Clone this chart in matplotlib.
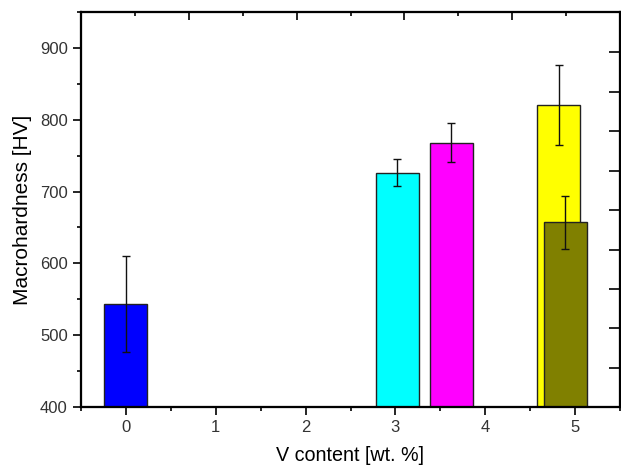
import matplotlib
matplotlib.use("Agg")
import matplotlib.pyplot as plt
from matplotlib.ticker import MultipleLocator

plt.rcParams["font.family"] = ["Liberation Sans", "DejaVu Sans"]

# --- data ---
positions = [0.0, 3.02, 3.62, 4.82, 4.89]
hardness = [544, 726, 768, 820, 657]
errors = [67, 19, 27, 56, 37]
colors = ["#0000ff", "#00ffff", "#ff00ff", "#ffff00", "#808000"]
xtick_labels = ["0", "1", "2", "3", "4", "5"]

fig = plt.figure(figsize=(6.21, 4.67), dpi=100)
ax = fig.add_axes([81 / 621, 1 - 407.3 / 467, 539 / 621, (407.3 - 11.7) / 467])

for x, h, e, c in zip(positions, hardness, errors, colors):
    ax.bar(x, h - 400, bottom=400, width=0.48, color=c, edgecolor="#222222",
           linewidth=1.0, zorder=2)
    ax.errorbar(x, h, yerr=e, fmt="none", ecolor="#111111", elinewidth=1.0,
                capsize=3, capthick=1.0, zorder=3)

ax.set_xlim(-0.5, 5.5)
ax.set_ylim(400, 950)
ax.set_xticks(range(len(xtick_labels)))
ax.set_xticklabels(xtick_labels)
ax.xaxis.set_minor_locator(MultipleLocator(0.5))
ax.set_yticks([400, 500, 600, 700, 800, 900])
ax.yaxis.set_minor_locator(MultipleLocator(50))

ax.tick_params(which="major", direction="out", length=6, width=1.2,
               labelsize=12, labelcolor="#333333", top=False, right=False)
ax.tick_params(which="minor", direction="out", length=3, width=1.2,
               top=False, right=False)
ax.tick_params(axis="x", pad=3)

for s in ax.spines.values():
    s.set_linewidth(1.5)

ax.set_xlabel("V content [wt. %]", fontsize=14.2, labelpad=8)
ax.set_ylabel("Macrohardness [HV]", fontsize=15, labelpad=6)

# unlabelled top / right tick marks
axt = ax.twiny()
axt.set_xlim(0, 1)
axt.xaxis.set_major_locator(MultipleLocator(0.2))
axt.xaxis.set_minor_locator(MultipleLocator(0.1))
axt.tick_params(axis="x", which="major", direction="in", length=6, width=1.2,
                labeltop=False)
axt.tick_params(axis="x", which="minor", direction="in", length=3, width=1.2)

axr = ax.twinx()
axr.set_ylim(0, 10.03)
axr.set_yticks(range(1, 10))
axr.tick_params(axis="y", direction="in", length=8, width=1.2, labelright=False)

for a in (axt, axr):
    for s in a.spines.values():
        s.set_linewidth(1.5)

plt.savefig("out.png", dpi=100)
